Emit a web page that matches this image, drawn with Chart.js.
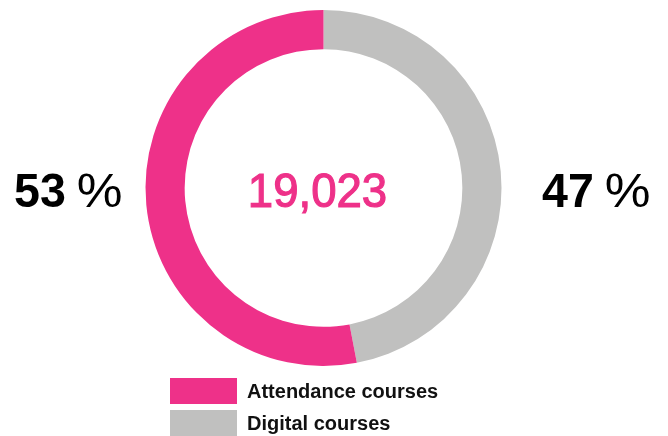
<!DOCTYPE html>
<html>
<head>
<meta charset="utf-8">
<script src="https://cdn.jsdelivr.net/npm/chart.js@4"></script>
<style>
  html, body { margin: 0; padding: 0; background: #fff; }
  #wrap { width: 668px; height: 436px; position: relative; }
</style>
</head>
<body>
<div id="wrap"><canvas id="courses" width="668" height="436"></canvas></div>
<script>
// chart data
const labels = ["Digital courses", "Attendance courses"];
const shares = [47, 53];
const colors = ["#C0C0BF", "#EE3189"];
const totalLabel = "19,023";
const legendOrder = [1, 0]; // attendance first in the legend

const FONT = "'Liberation Sans', Arial, sans-serif";

// narrow text helper: draws text squeezed horizontally from x
function squeezed(ctx, text, x, y, sx, stroke) {
  ctx.save();
  ctx.translate(x, y);
  ctx.scale(sx, 1);
  ctx.fillText(text, 0, 0);
  if (stroke) {
    ctx.strokeStyle = ctx.fillStyle;
    ctx.lineWidth = stroke;
    ctx.strokeText(text, 0, 0);
  }
  const w = ctx.measureText(text).width * sx;
  ctx.restore();
  return w;
}

function percent(ctx, value, x, y) {
  ctx.font = "bold 49px " + FONT;
  let w = squeezed(ctx, String(value), x, y, 0.95);
  ctx.font = "49px " + FONT;
  squeezed(ctx, "%", x + w + 11, y, 1.05);
}

// draws the percentages, the total in the middle and the legend below
const textPlugin = {
  id: "texts",
  afterDraw(chart) {
    const ctx = chart.ctx;
    const arc = chart.getDatasetMeta(0).data[0];
    const cx = arc.x;
    ctx.save();
    ctx.textBaseline = "alphabetic";
    ctx.textAlign = "left";

    ctx.fillStyle = "#000";
    percent(ctx, shares[1], 14, 207);
    percent(ctx, shares[0], 542, 207);

    ctx.fillStyle = colors[1];
    ctx.font = "49px " + FONT;
    const tw = ctx.measureText(totalLabel).width * 0.93;
    squeezed(ctx, totalLabel, cx - 7 - tw / 2 + 1, 207, 0.93, 1.2);

    ctx.font = "bold 20px " + FONT;
    legendOrder.forEach((i, row) => {
      const y = 378 + row * 32;
      ctx.fillStyle = colors[i];
      ctx.fillRect(170, y, 67, 26);
      ctx.fillStyle = "#111";
      ctx.fillText(labels[i], 247, y + 20);
    });
    ctx.restore();
  }
};

new Chart(document.getElementById("courses"), {
  type: "doughnut",
  data: {
    labels: labels,
    datasets: [{
      data: shares,
      backgroundColor: colors,
      borderWidth: 0
    }]
  },
  options: {
    responsive: false,
    animation: false,
    cutout: "78%",
    layout: { padding: { top: 10, bottom: 70, left: 0, right: 21 } },
    plugins: {
      legend: { display: false },
      tooltip: { enabled: false }
    }
  },
  plugins: [textPlugin]
});
</script>
</body>
</html>
